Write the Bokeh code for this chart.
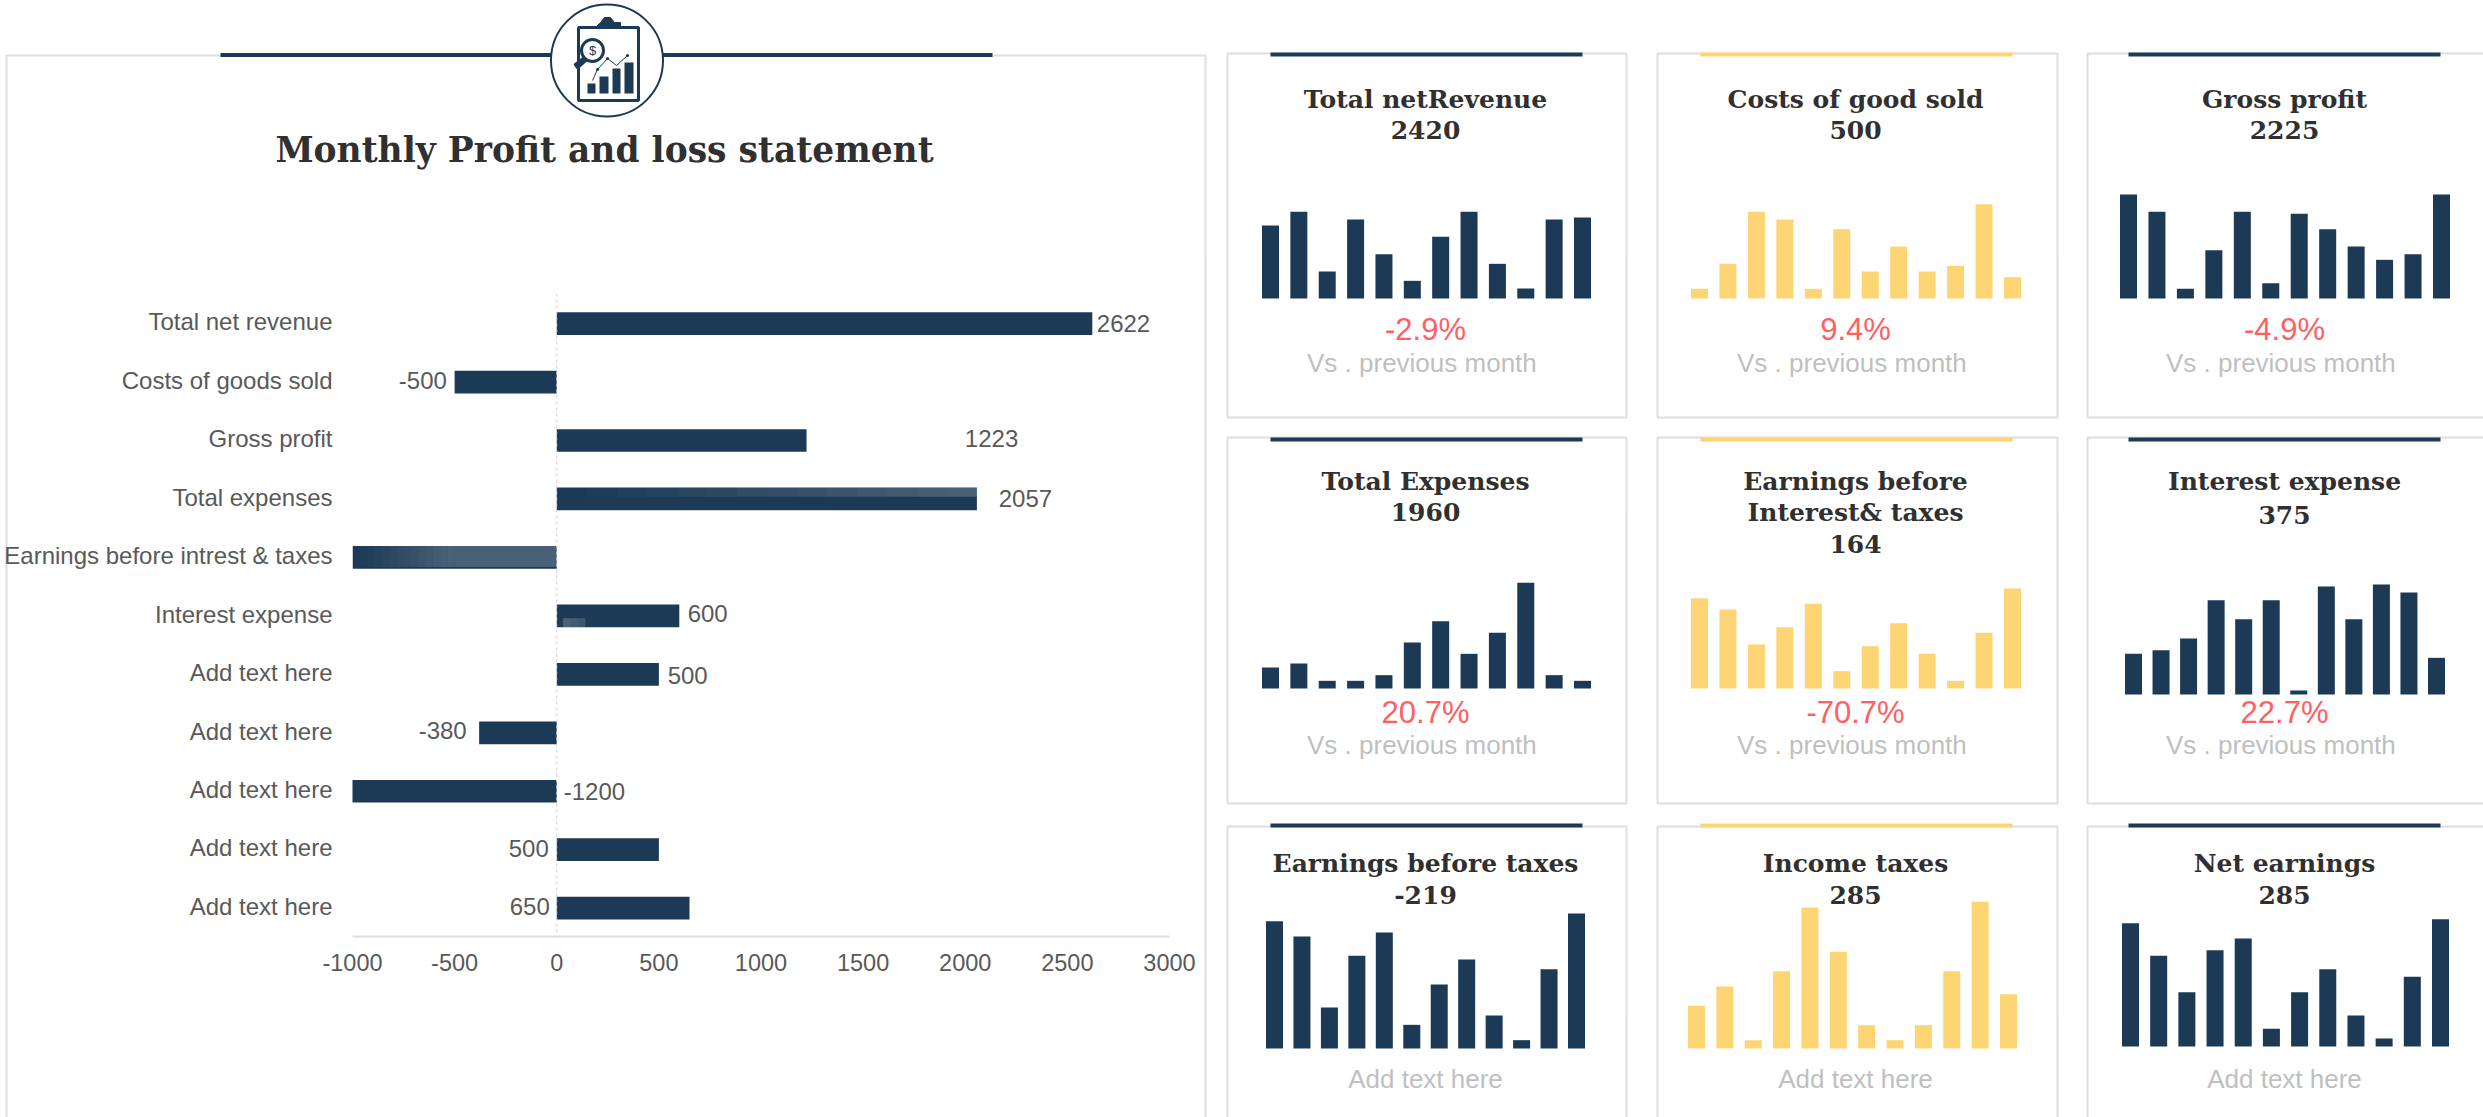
from bokeh.plotting import figure
from bokeh.layouts import row, column
from bokeh.embed import file_html
from bokeh.resources import INLINE
from bokeh.core.properties import value
from bokeh.models import Range1d, FixedTicker, Span
import numpy as np

# ---------- data ----------
categories = ["Total net revenue", "Costs of goods sold", "Gross profit", "Total expenses",
              "Earnings before intrest & taxes", "Interest expense", "Add text here", "Add text here",
              "Add text here", "Add text here", "Add text here"]
pnl_values = [2622, -500, 1223, 2057, -1000, 600, 500, -380, -1200, 500, 650]
pnl_labels = ["2622", "-500", "1223", "2057", "", "600", "500", "-380", "-1200", "500", "650"]
x_ticks = [-1000, -500, 0, 500, 1000, 1500, 2000, 2500, 3000]
main_title = "Monthly Profit and loss statement"

card_titles = [["Total netRevenue"], ["Costs of good sold"], ["Gross profit"],
               ["Total Expenses"], ["Earnings before", "Interest& taxes"], ["Interest expense"],
               ["Earnings before taxes"], ["Income taxes"], ["Net earnings"]]
card_numbers = ["2420", "500", "2225", "1960", "164", "375", "-219", "285", "285"]
card_changes = ["-2.9%", "9.4%", "-4.9%", "20.7%", "-70.7%", "22.7%", None, None, None]
note_vs = "Vs . previous  month"
note_add = "Add text here"

s1 = [219, 260, 81, 237, 133, 53, 185, 260, 104, 30, 237, 243]
s2 = [29, 104, 260, 237, 29, 208, 81, 156, 81, 98, 283, 64]
s3 = [312, 260, 29, 145, 260, 46, 254, 208, 156, 116, 133, 312]
s4 = [63, 75, 23, 23, 40, 138, 202, 104, 167, 317, 40, 23]
s5 = [271, 237, 132, 184, 254, 52, 127, 196, 104, 23, 167, 300]
s6 = [122, 133, 168, 283, 226, 283, 12, 324, 226, 330, 306, 110]
s7 = [382, 336, 123, 278, 348, 71, 192, 267, 99, 25, 238, 405]
s8 = [128, 186, 25, 232, 423, 290, 70, 25, 70, 232, 440, 163]
s9 = [370, 272, 163, 289, 324, 53, 163, 232, 93, 24, 209, 382]
card_series = [s1, s2, s3, s4, s5, s6, s7, s8, s9]

# ---------- style / layout ----------
NAVY, GOLD, EDGE = "#1c3a55", "#fdd574", "#dedede"
RED, MUTED, DARK, AXIS_TXT = "#ff5f63", "#bfbfbf", "#303030", "#595959"
SANS, SERIF = "Liberation Sans", "DejaVu Serif"
TOTAL_H = 1117

MAIN_W = 1212
F_L, F_R, F_T, F_B = 352, 1169, 293, 936
label_left = [2644, -773, 1998, 2164, 0, 641, 543, -676, 34, -235, -230]
label_dy = [0, -2, -2, 0, 0, -2, 1, -2, 0, -1, -2]

# ---------- backdrop of the left panel, in page pixels ----------
bg = figure(width=MAIN_W, height=TOTAL_H, x_range=Range1d(0, MAIN_W), y_range=Range1d(TOTAL_H, 0),
            x_axis_type=None, y_axis_type=None, min_border=0, outline_line_color=None,
            toolbar_location=None, output_backend="svg")
bg.grid.visible = False
bg.quad(left=[6], right=[1205], top=[55], bottom=[TOTAL_H + 20], fill_color=None, line_color=EDGE, line_width=2)
bg.quad(left=[220], right=[992], top=[52.5], bottom=[56.5], fill_color=NAVY, line_color=None)
bg.circle(x=[606.5], y=[60], radius=56, fill_color="white", line_color=NAVY, line_width=2)
bg.quad(left=[578], right=[638], top=[27], bottom=[100], fill_color="white", line_color=NAVY, line_width=3)
bg.patch([595, 600, 604, 610, 614, 620, 620, 595], [27, 22, 17, 17, 22, 22, 27, 27], fill_color=NAVY, line_color=NAVY)
bg.quad(left=[587, 599, 612, 624], right=[595, 608, 620, 633], top=[83, 76, 68, 62], bottom=[93] * 4,
        fill_color=NAVY, line_color=None)
bg.line([592, 597, 607, 616, 627], [80, 69, 58, 65, 55], line_color=NAVY, line_width=1)
bg.scatter(x=[597, 607, 627], y=[69, 58, 55], size=3, fill_color=NAVY, line_color=None)
bg.circle(x=[592], y=[50], radius=11, fill_color="white", line_color=NAVY, line_width=3)
bg.patch([574, 583, 586, 577], [64, 57, 60, 68], fill_color=NAVY, line_color=NAVY, line_width=2)
bg.text(x=[592], y=[50], text=["$"], text_font=value(SANS), text_font_size="13px", text_color=NAVY,
        text_align="center", text_baseline="middle")
bg.text(x=[604], y=[149], text=[main_title], text_font=value(SERIF), text_font_style="bold",
        text_font_size="34.5px", text_color=DARK, text_align="center", text_baseline="middle")

# ---------- bar chart laid over that backdrop ----------
main = figure(width=MAIN_W, height=TOTAL_H, frame_width=F_R - F_L, frame_height=F_B - F_T,
              x_range=Range1d(-1000, 3000), y_range=Range1d(10.485, -0.515),
              min_border_left=F_L, min_border_right=MAIN_W - F_R, min_border_top=F_T,
              min_border_bottom=TOTAL_H - F_B, outline_line_color=None,
              background_fill_color=None, border_fill_color=None,
              toolbar_location=None, output_backend="svg")
main.grid.visible = False
xa, ya = main.xaxis[0], main.yaxis[0]
xa.ticker = FixedTicker(ticks=x_ticks)
xa.major_label_overrides = {v: str(v) for v in x_ticks}
xa.major_tick_line_color = None
xa.minor_tick_line_color = None
xa.axis_line_color = EDGE
xa.axis_line_width = 2
xa.major_label_text_font = SANS
xa.major_label_text_font_size = "23.5px"
xa.major_label_text_color = AXIS_TXT
xa.major_label_standoff = 11
y_ticks = [round(i - 0.03, 2) for i in range(len(categories))]
ya.ticker = FixedTicker(ticks=y_ticks)
ya.major_label_overrides = dict(zip(y_ticks, categories))
ya.axis_line_color = None
ya.major_tick_line_color = None
ya.minor_tick_line_color = None
ya.major_label_text_font = SANS
ya.major_label_text_font_size = "24px"
ya.major_label_text_color = AXIS_TXT
ya.major_label_standoff = 14

main.add_layout(Span(location=0, dimension="height", line_color="#cfcfcf", line_width=1, line_dash="3 3"))
rows = list(range(len(categories)))
H = 22.7 / 58.45
main.hbar(y=rows, left=0, right=pnl_values, height=H, fill_color=NAVY, line_color=None)

# lighter sheen seen on three of the bars
def sheen(r, x0, x1, y0, y1, a0, a1, n=14):
    e = np.linspace(x0, x1, n + 1)
    main.quad(left=e[:-1], right=e[1:], top=[r + y0 * H] * n, bottom=[r + y1 * H] * n,
              fill_color="white", fill_alpha=list(np.linspace(a0, a1, n)), line_color=None)
sheen(3, 0, pnl_values[3], -0.5, -0.1, 0.0, 0.2)
sheen(4, pnl_values[4], pnl_values[4] * 0.5, -0.5, 0.42, 0.0, 0.2)
sheen(4, pnl_values[4] * 0.5, 0, -0.5, 0.42, 0.2, 0.2, n=1)
sheen(5, 30, 140, 0.1, 0.5, 0.2, 0.15, n=3)

lab_idx = [i for i, t in enumerate(pnl_labels) if t]
main.text(x=[label_left[i] for i in lab_idx], y=[rows[i] for i in lab_idx],
          text=[pnl_labels[i] for i in lab_idx], y_offset=[label_dy[i] for i in lab_idx],
          text_font=value(SANS), text_font_size="24px", text_color=AXIS_TXT,
          text_align="left", text_baseline="middle")

# ---------- KPI cards ----------
COLS = [(1212, 1641), (1641, 2072), (2072, 2483)]
ROWS = [(0, 427), (427, 815), (815, TOTAL_H)]
CARD_X = [(1227, 1626), (1657, 2057), (2087, 2490)]
CARD_Y = [(53, 417), (437, 803), (826, 1200)]
ACCENT_X = [(1270, 1582), (1700, 2012), (2128, 2440)]
ACCENT_Y = [(52, 56), (437, 441), (823, 827)]
BAR_FIRST_LAST = [(1270, 1582), (1699, 2012), (2128, 2441), (1270, 1582), (1699, 2012), (2133, 2436),
                  (1274, 1576), (1696, 2008), (2130, 2440)]
BAR_BASE = [298, 298, 298, 688, 688, 694, 1048, 1048, 1046]
TITLE_Y = [99, 481, 863]
NUM_Y = [129, 129, 129, 511, 543, 514, 894, 894, 894]
TITLE2_DY = 31
CHANGE_Y = [329, 712, None]
NOTE_Y = [362, 744, 1078]
COLORS = [NAVY, GOLD, NAVY]
CX = [1425, 1855, 2284]
BAR_W = 17

def tile(k):
    r, c = divmod(k, 3)
    L, R = COLS[c]
    T, B = ROWS[r]
    p = figure(width=R - L, height=B - T, x_range=Range1d(L, R), y_range=Range1d(B, T),
               x_axis_type=None, y_axis_type=None, min_border=0, outline_line_color=None,
               toolbar_location=None, output_backend="svg")
    p.grid.visible = False
    x0, x1 = BAR_FIRST_LAST[k]
    step = (x1 - x0) / 11
    base = BAR_BASE[k]
    p.extra_x_ranges = {"m": Range1d((L - x0) / step, (R - x0) / step)}
    p.extra_y_ranges = {"v": Range1d(-(B - base) * 3, (base - T) * 3)}
    p.quad(left=[CARD_X[c][0]], right=[CARD_X[c][1]], top=[CARD_Y[r][0]], bottom=[CARD_Y[r][1]],
           fill_color=None, line_color=EDGE, line_width=2)
    p.quad(left=[ACCENT_X[c][0]], right=[ACCENT_X[c][1]], top=[ACCENT_Y[r][0]], bottom=[ACCENT_Y[r][1]],
           fill_color=COLORS[c], line_color=None)
    p.vbar(x=list(range(12)), top=card_series[k], bottom=0, width=BAR_W / step, fill_color=COLORS[c],
           line_color=None, x_range_name="m", y_range_name="v")
    def t(y, s, font, size, color, style="normal"):
        p.text(x=[CX[c]], y=[y], text=[s], text_font=value(font), text_font_size=size, text_color=color,
               text_font_style=style, text_align="center", text_baseline="middle")
    for j, line in enumerate(card_titles[k]):
        t(TITLE_Y[r] + j * TITLE2_DY, line, SERIF, "25px", DARK, "bold")
    t(NUM_Y[k], card_numbers[k], SERIF, "25px", DARK, "bold")
    if card_changes[k]:
        t(CHANGE_Y[r], card_changes[k], SANS, "31px", RED)
        t(NOTE_Y[r], note_vs, SANS, "26px", MUTED)
    else:
        t(NOTE_Y[r], note_add, SANS, "26px", MUTED)
    return p

tiles = [tile(k) for k in range(9)]
grid = column(row(*tiles[:3], spacing=0), row(*tiles[3:6], spacing=0), row(*tiles[6:], spacing=0), spacing=0)
page = row(column(bg), column(main, margin=(0, 0, 0, -MAIN_W)), grid, spacing=0)
open("out.html", "w").write(file_html(page, INLINE))
